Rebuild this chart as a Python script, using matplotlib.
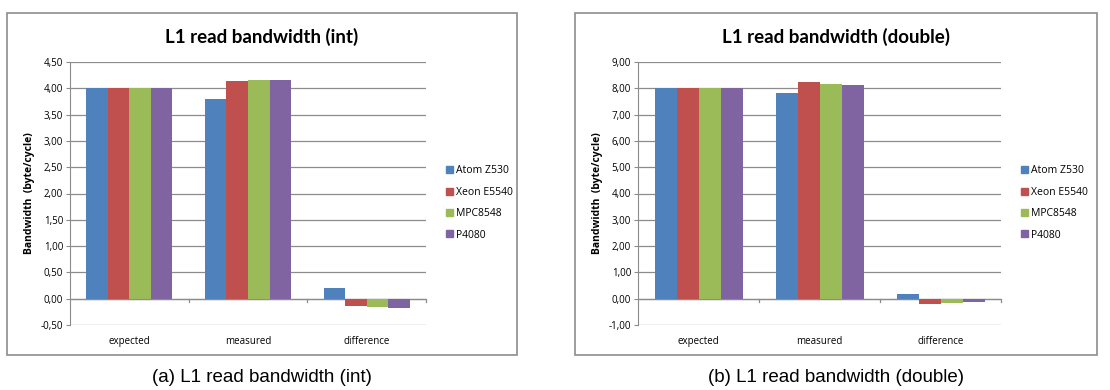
import matplotlib.pyplot as plt
import matplotlib.patches as mpatches
import numpy as np

categories = ['expected', 'measured', 'difference']
cpus = ['Atom Z530', 'Xeon E5540', 'MPC8548', 'P4080']
colors = ['#4F81BD', '#C0504D', '#9BBB59', '#8064A2']

int_atom = [4.00, 3.80, 0.20]
int_xeon = [4.00, 4.14, -0.14]
int_mpc = [4.00, 4.16, -0.16]
int_p4080 = [4.00, 4.16, -0.17]

dbl_atom = [8.00, 7.82, 0.19]
dbl_xeon = [8.00, 8.23, -0.22]
dbl_mpc = [8.00, 8.16, -0.15]
dbl_p4080 = [8.00, 8.12, -0.11]

W, H = 1110, 390
fig = plt.figure(figsize=(W / 100, H / 100), dpi=100)
plt.rcParams['font.family'] = ['Open Sans', 'DejaVu Sans']


def px(x0, y0, x1, y1):
    return [x0 / W, 1 - y1 / H, (x1 - x0) / W, (y1 - y0) / H]


def panel(box, plot, series, ylim, step, title, caption, legx):
    # outer gray border of the chart
    fig.add_artist(mpatches.Rectangle((box[0] / W, 1 - box[3] / H),
                                      (box[2] - box[0]) / W, (box[3] - box[1]) / H,
                                      transform=fig.transFigure, fill=False,
                                      edgecolor='#8c8c8c', linewidth=1.2))
    ax = fig.add_axes(px(*plot))
    x = np.arange(len(categories))
    w = 1 / 5.5
    for i, vals in enumerate(series):
        ax.bar(x + (i - 1.5) * w, vals, w, color=colors[i], label=cpus[i], zorder=3)
    ax.set_xlim(-0.5, 2.5)
    ax.set_ylim(*ylim)
    ticks = np.arange(ylim[0], ylim[1] + step / 2, step)
    ax.set_yticks(ticks)
    ax.set_yticklabels([('%.2f' % t).replace('.', ',') for t in ticks], fontsize=7)
    ax.grid(axis='y', color='#8c8c8c', linewidth=0.9, zorder=0)
    for s in ['top', 'right', 'bottom']:
        ax.spines[s].set_visible(False)
    ax.spines['left'].set_color('#8c8c8c')
    ax.axhline(0, color='#8c8c8c', linewidth=0.9, zorder=2)
    for xb in [0.5, 1.5, 2.5]:
        ax.plot([xb, xb], [0, -(ylim[1] - ylim[0]) * 0.012], color='#8c8c8c',
                linewidth=0.9, clip_on=False, zorder=2)
    ax.tick_params(axis='y', length=3, color='#8c8c8c', pad=2)
    ax.tick_params(axis='x', length=0, pad=8)
    ax.set_xticks(x)
    ax.set_xticklabels(categories, fontsize=7)
    ax.set_ylabel('Bandwidth  (byte/cycle)', fontsize=7.5, fontweight='bold', labelpad=4)
    fig.text((box[0] + box[2]) / 2 / W, 1 - 37 / H, title, ha='center', va='center',
             fontsize=13.5, fontweight='bold', family=['Lato', 'DejaVu Sans'])
    fig.text((box[0] + box[2]) / 2 / W, 1 - 378 / H, caption, ha='center', va='center',
             fontsize=13.5, family=['Liberation Sans', 'DejaVu Sans'])
    handles = [mpatches.Patch(color=c) for c in colors]
    fig.legend(handles, cpus, loc='center left', bbox_to_anchor=(legx / W, 1 - 203 / H),
               frameon=False, fontsize=7.5, handlelength=0.65, handleheight=0.65,
               handletextpad=0.3, labelspacing=1.0)
    return ax


panel((7, 13, 517, 355), (70, 62, 426, 325),
      [int_atom, int_xeon, int_mpc, int_p4080], (-0.5, 4.5), 0.5,
      'L1 read bandwidth (int)', '(a) L1 read bandwidth (int)', 437)
panel((575, 13, 1097, 355), (638, 62, 1001, 325),
      [dbl_atom, dbl_xeon, dbl_mpc, dbl_p4080], (-1.0, 9.0), 1.0,
      'L1 read bandwidth (double)', '(b) L1 read bandwidth (double)', 1012)

plt.savefig('out.png', dpi=100)
